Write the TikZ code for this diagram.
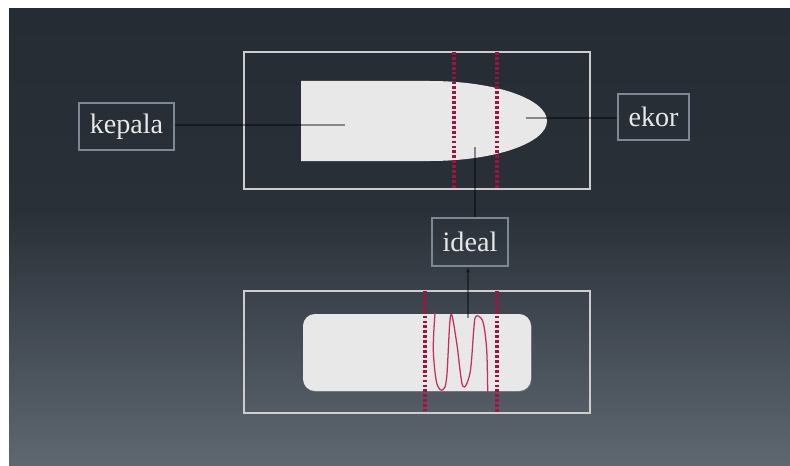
\documentclass[tikz,border=0pt]{standalone}
\usepackage{fontspec}
\setmainfont{Liberation Serif}
\usetikzlibrary{arrows.meta, positioning, shadows}
\definecolor{bgtop}{RGB}{37,44,52}
\definecolor{bgmid}{RGB}{41,48,56}
\definecolor{bgbot}{RGB}{95,103,113}
\definecolor{boxline}{RGB}{125,136,150}
\definecolor{frameline}{RGB}{205,205,205}
\definecolor{cutred}{RGB}{163,18,63}
\definecolor{inkred}{RGB}{196,48,90}
\definecolor{sheet}{RGB}{232,232,232}

\tikzset{
  labelbox/.style={draw=boxline, line width=1.8pt, text=sheet,
    font=\fontsize{20}{24}\selectfont, inner sep=0pt},
  frame/.style={draw=frameline, line width=0.9pt},
  cutline/.style={cutred, line width=2.2pt, dash pattern=on 2pt off 1.5pt},
  leader/.style={black, opacity=0.42, line width=0.9pt},
}

\begin{document}
\begin{tikzpicture}[x=0.025cm, y=-0.025cm]
        \useasboundingbox (0,0) rectangle (790,466);
        \fill[white] (0,0) rectangle (790,466);
        \shade[top color=bgtop, bottom color=bgmid] (9,9) rectangle (790,211);
        \shade[top color=bgmid, bottom color=bgbot] (9,210) rectangle (790,466);

        % upper sample
        \draw[frame] (244,52) rectangle (590,189);
        \fill[sheet] (301,81) -- (430,81)
          arc[start angle=-90, end angle=90, x radius=117, y radius=40]
          -- (301,161) -- cycle;
        \draw[cutline] (454,52) -- (454,189);
        \draw[cutline] (497,52) -- (497,189);
        \coordinate (head) at (345,125);
        \coordinate (tail) at (526,118);
        \coordinate (mid) at (475,147);

        % lower sample
        \draw[frame] (244,291) rectangle (590,413);
        \fill[sheet, rounded corners=8.5pt,
              drop shadow={opacity=0.45, shadow xshift=0.6pt, shadow yshift=-0.8pt}]
          (303,314) rectangle (531,391);
        \draw[cutline] (425,291) -- (425,411);
        \draw[cutline] (497,291) -- (497,414);
        \draw[inkred, line width=0.9pt, line join=round]
          plot[smooth, tension=0.55] coordinates {(435,313) (433.3,350)
            (436.7,383) (442.7,390) (446.7,377) (450.7,315) (456.7,343)
            (462.7,386) (470,373) (473.5,333) (475,318) (478.3,316)
            (483.3,323) (486.7,350) (487.7,392)};
        \coordinate (probe) at (468,318);

        % labels
        \node[labelbox, minimum width=2.375cm, minimum height=1.175cm]
          (kepala) at (126.5,126.5) {kepala};
        \node[labelbox, minimum width=1.775cm, minimum height=1.15cm]
          (ekor) at (653.5,117) {ekor};
        \node[labelbox, minimum width=1.9cm, minimum height=1.2cm]
          (ideal) at (470,242) {ideal};

        \draw[leader] (kepala.east |- head) -- (head);
        \draw[leader] (tail) -- (ekor.west |- tail);
        \draw[leader] (mid) -- (mid |- ideal.north);
        \draw[leader,-{Stealth[length=4pt]}] (probe) -- (probe |- ideal.south);
      \end{tikzpicture}
\end{document}
